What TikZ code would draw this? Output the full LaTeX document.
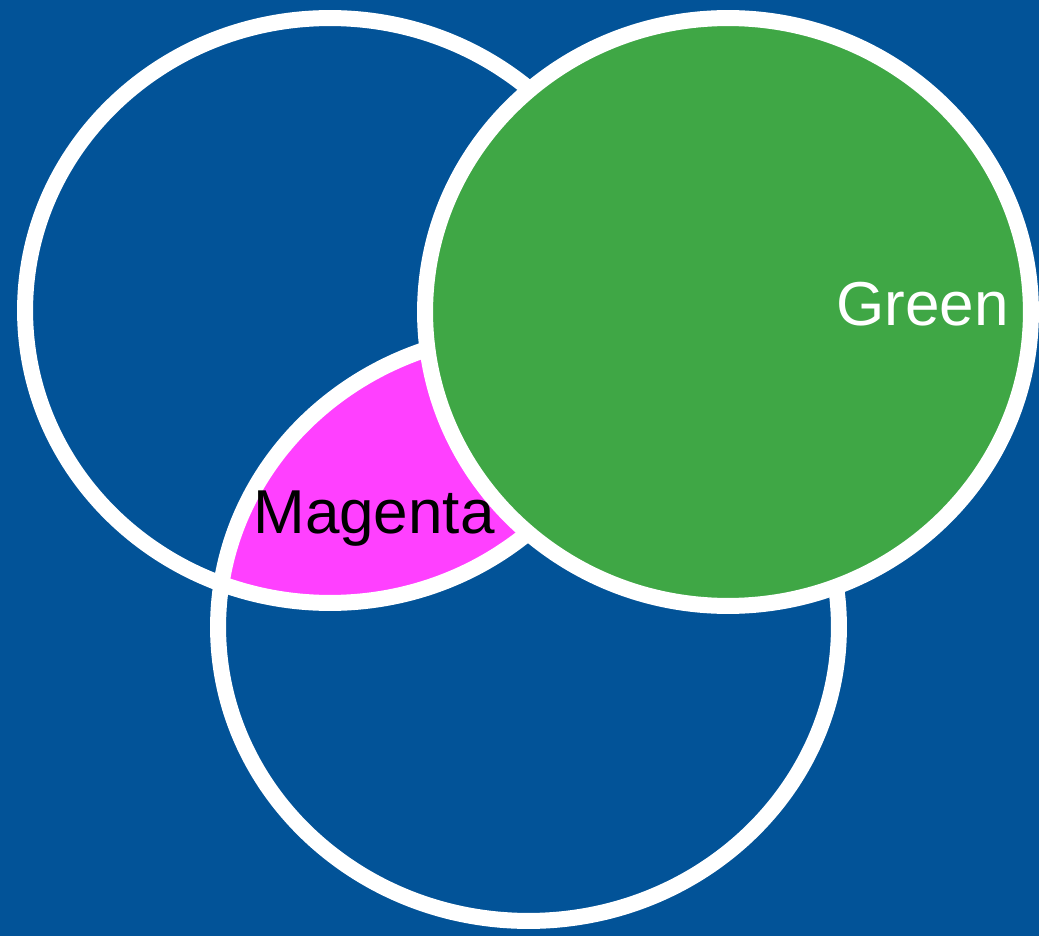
\documentclass[tikz,border=0pt]{standalone}
\usepackage{fontspec}
\setmainfont{Liberation Sans}
\definecolor{bg}{RGB}{2,83,152}
\definecolor{grn}{RGB}{63,167,69}
\definecolor{mag}{RGB}{255,64,255}
\begin{document}
\begin{tikzpicture}[x=0.02cm,y=-0.02cm,
  ring/.style={draw=white,line width=0.32cm},
  lbl/.style={inner sep=0pt,anchor=base west,font=\fontsize{35.3}{40}\selectfont}]
\fill[bg] (0,0) rectangle (1039,936);
\useasboundingbox (0,0) rectangle (1039,936);
% magenta lens = circle A intersect circle B
\begin{scope}
  \clip (330,310.5) ellipse [x radius=6.1cm,y radius=5.85cm];
  \fill[mag] (528.5,627) ellipse [x radius=6.21cm,y radius=5.88cm];
\end{scope}
\draw[ring] (330,310.5) ellipse [x radius=6.1cm,y radius=5.85cm];
\draw[ring] (528.5,627) ellipse [x radius=6.21cm,y radius=5.88cm];
\filldraw[ring,fill=grn] (728,312) ellipse [x radius=6.06cm,y radius=5.88cm];
\node[lbl,text=black] (mlabel) at (253,533) {Magenta};
\node[lbl,text=white] (glabel) at (836,325) {Green};
\end{tikzpicture}
\end{document}
